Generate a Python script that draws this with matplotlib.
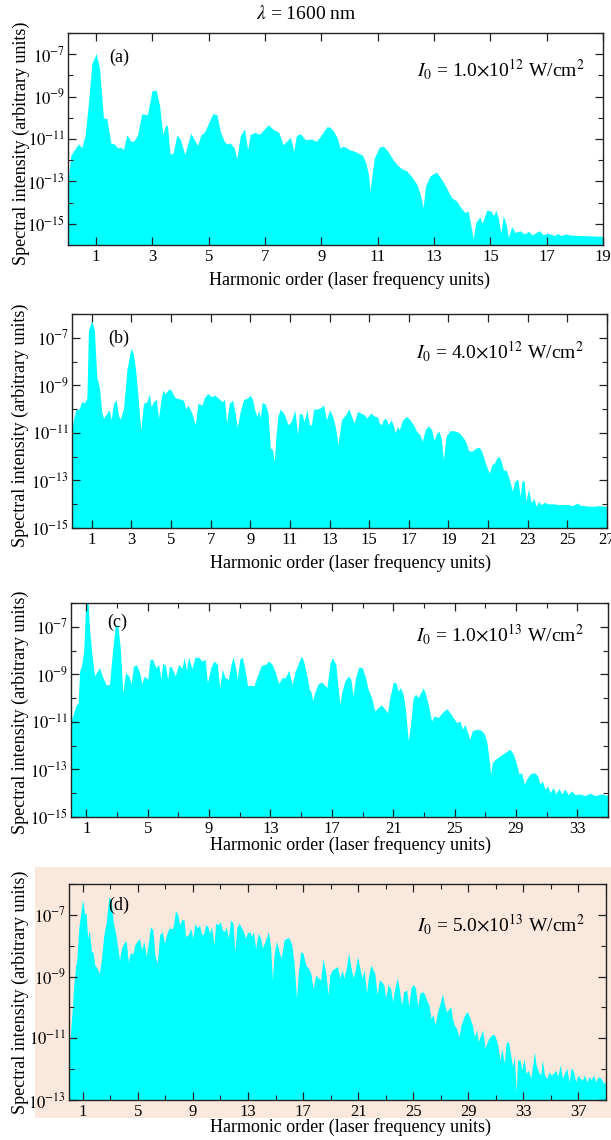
import numpy as np
import matplotlib
matplotlib.use("Agg")
import matplotlib.pyplot as plt
from matplotlib.patches import Rectangle
from matplotlib.ticker import FixedLocator, NullFormatter

plt.rcParams["font.family"] = ["Liberation Serif", "DejaVu Serif"]
plt.rcParams["mathtext.fontset"] = "stix"

# --------------------------------------------------
# Data: harmonic order and log10(intensity)
# --------------------------------------------------

a_x = [0.0, 0.10, 0.37, 0.49, 0.61, 0.73, 0.85, 1.0, 1.12, 1.26,
       1.38, 1.52, 1.64, 1.76, 1.88, 1.97, 2.09, 2.23, 2.35, 2.47,
       2.62, 2.82, 2.98, 3.13, 3.25, 3.37, 3.46, 3.53, 3.63, 3.73,
       3.87, 3.99, 4.15, 4.36, 4.60, 4.72, 4.84, 5.14, 5.29, 5.41,
       5.55, 5.64, 5.76, 5.90, 6.00, 6.12, 6.27, 6.38, 6.47, 6.62,
       6.81, 6.97, 7.11, 7.30, 7.48, 7.64, 7.90, 8.02, 8.11, 8.25,
       8.43, 8.63, 8.82, 8.96, 9.20, 9.29, 9.44, 9.56, 9.67, 9.75,
       9.87, 9.99, 10.17, 10.46, 10.58, 10.67, 10.73, 10.80, 10.88, 11.06,
       11.20, 11.36, 11.54, 11.71, 11.89, 12.01, 12.19, 12.39, 12.51, 12.61,
       12.70, 12.85, 13.08, 13.26, 13.44, 13.62, 13.80, 13.94, 14.10, 14.21,
       14.30, 14.39, 14.48, 14.63, 14.71, 14.87, 15.01, 15.11, 15.20, 15.29,
       15.37, 15.46, 15.56, 15.64, 15.76, 15.88, 16.06, 16.20, 16.36, 16.48,
       16.62, 16.75, 16.87, 17.01, 17.15, 17.27, 17.39, 17.51, 17.67, 17.85,
       18.32, 19.0]
a_logI = [-12.98, -11.77, -11.23, -11.42, -10.80, -9.23, -7.44, -6.97, -7.67, -10.02,
          -10.02, -11.19, -11.23, -11.42, -11.39, -11.5, -10.80, -11.11, -11.08, -10.80,
          -9.81, -9.86, -8.73, -8.69, -9.39, -10.80, -10.36, -10.36, -11.73, -11.66,
          -10.80, -11.03, -11.73, -10.73, -11.31, -10.80, -10.69, -9.81, -9.86, -10.64,
          -11.11, -11.23, -11.19, -11.42, -11.92, -10.84, -10.53, -11.5, -10.8, -10.69,
          -10.77, -10.53, -10.33, -10.56, -10.67, -11.27, -10.92, -11.58, -10.84, -10.75,
          -11.03, -11.0, -11.11, -10.88, -10.42, -10.44, -10.64, -10.95, -11.45, -11.34,
          -11.39, -11.5, -11.58, -11.77, -12.13, -12.67, -13.45, -12.67, -11.89, -11.38,
          -11.34, -11.58, -11.97, -12.25, -12.44, -12.48, -12.75, -13.14, -13.61, -14.23,
          -13.22, -12.75, -12.56, -12.88, -13.30, -13.77, -13.92, -14.23, -14.47, -14.39,
          -15.02, -15.72, -14.94, -14.67, -14.98, -14.36, -14.39, -14.62, -14.36, -14.78,
          -15.45, -14.62, -15.02, -15.64, -15.13, -15.41, -15.33, -15.48, -15.36, -15.53,
          -15.41, -15.33, -15.52, -15.45, -15.48, -15.56, -15.45, -15.56, -15.48, -15.53,
          -15.56, -15.59]

b_x = [0.0, 0.07, 0.19, 0.36, 0.49, 0.63, 0.75, 0.83, 1.0, 1.13,
       1.25, 1.39, 1.51, 1.59, 1.76, 1.88, 1.98, 2.09, 2.23, 2.35,
       2.43, 2.60, 2.77, 2.97, 3.10, 3.22, 3.36, 3.47, 3.61, 3.78,
       3.90, 4.0, 4.11, 4.25, 4.37, 4.50, 4.59, 4.70, 4.84, 4.96,
       5.21, 5.51, 5.63, 5.75, 5.85, 6.05, 6.22, 6.35, 6.56, 6.69,
       6.86, 7.03, 7.20, 7.40, 7.57, 7.70, 7.80, 7.94, 8.10, 8.21,
       8.34, 8.49, 8.66, 8.83, 9.0, 9.11, 9.22, 9.33, 9.42, 9.50,
       9.59, 9.75, 9.89, 10.01, 10.12, 10.21, 10.29, 10.39, 10.51, 10.73,
       10.90, 11.07, 11.24, 11.39, 11.47, 11.61, 11.71, 11.86, 11.98, 12.08,
       12.20, 12.36, 12.58, 12.70, 12.84, 13.0, 13.15, 13.32, 13.42, 13.60,
       13.80, 13.97, 14.11, 14.24, 14.41, 14.58, 14.75, 14.87, 15.08, 15.25,
       15.42, 15.51, 15.62, 15.71, 15.79, 15.88, 15.96, 16.10, 16.21, 16.30,
       16.43, 16.52, 16.69, 16.89, 17.06, 17.23, 17.39, 17.56, 17.68, 17.82,
       17.98, 18.15, 18.27, 18.41, 18.52, 18.63, 18.74, 18.88, 19.08, 19.33,
       19.54, 19.70, 19.87, 20.01, 20.18, 20.38, 20.55, 20.68, 20.85, 21.05,
       21.19, 21.32, 21.44, 21.56, 21.66, 21.78, 21.90, 22.0, 22.12, 22.23,
       22.34, 22.50, 22.62, 22.71, 22.82, 22.91, 23.04, 23.18, 23.30, 23.43,
       23.55, 23.68, 23.85, 24.06, 24.31, 24.56, 24.81, 25.07, 25.27, 25.49,
       25.66, 25.91, 26.25, 26.59, 27.0]
b_logI = [-10.87, -10.45, -10.03, -9.99, -9.69, -9.73, -9.55, -6.68, -6.29, -6.68,
          -8.64, -9.13, -10.17, -10.38, -10.17, -10.03, -10.45, -9.76, -9.62, -10.29,
          -10.43, -9.97, -8.36, -7.45, -7.66, -8.43, -9.76, -10.87, -9.76, -9.69,
          -9.38, -9.90, -9.69, -9.59, -10.38, -9.55, -9.20, -9.36, -9.20, -9.15,
          -9.52, -9.59, -9.64, -10.0, -9.83, -10.17, -10.66, -9.76, -9.83, -9.50,
          -9.34, -9.48, -9.41, -9.55, -9.69, -9.59, -10.57, -9.76, -9.62, -10.03,
          -10.76, -10.10, -9.59, -9.55, -9.42, -9.59, -10.03, -10.31, -10.03, -10.38,
          -9.73, -9.78, -10.17, -11.64, -11.71, -12.20, -11.15, -10.31, -10.0, -10.24,
          -10.66, -10.52, -10.03, -11.08, -10.20, -10.20, -10.52, -10.03, -10.66, -10.66,
          -10.0, -10.0, -9.92, -9.83, -10.45, -10.03, -10.29, -10.87, -11.50, -10.45,
          -10.24, -10.0, -10.31, -10.59, -10.10, -10.17, -10.24, -10.38, -10.17, -10.29,
          -10.34, -10.59, -10.66, -10.45, -10.38, -10.45, -10.66, -10.45, -10.66, -10.99,
          -10.73, -10.87, -10.45, -10.31, -10.45, -10.66, -10.94, -11.08, -11.36, -10.87,
          -10.71, -10.87, -11.32, -11.01, -10.94, -11.22, -12.13, -11.15, -10.90, -10.92,
          -10.99, -11.15, -11.36, -11.74, -11.78, -11.64, -11.60, -11.78, -12.24, -12.69,
          -12.34, -12.27, -12.06, -11.99, -12.20, -12.58, -12.55, -12.76, -13.11, -13.46,
          -13.04, -12.94, -13.67, -13.0, -13.04, -13.88, -13.36, -13.95, -13.74, -14.09,
          -13.88, -14.02, -13.92, -13.99, -13.98, -14.02, -14.01, -14.02, -14.06, -13.95,
          -14.05, -14.06, -14.09, -14.06, -14.09]

c_x = [0.0, 0.18, 0.35, 0.46, 0.57, 0.68, 0.83, 0.96, 1.11, 1.22,
       1.39, 1.54, 1.65, 1.86, 2.08, 2.30, 2.51, 2.69, 2.88, 3.05,
       3.21, 3.38, 3.55, 3.77, 3.92, 4.07, 4.29, 4.50, 4.61, 4.78,
       5.0, 5.15, 5.32, 5.54, 5.71, 5.86, 5.97, 6.15, 6.30, 6.41,
       6.58, 6.79, 7.01, 7.23, 7.38, 7.53, 7.66, 7.88, 8.09, 8.35,
       8.52, 8.74, 8.89, 9.11, 9.32, 9.54, 9.69, 9.86, 10.04, 10.25,
       10.41, 10.56, 10.73, 10.84, 11.0, 11.16, 11.34, 11.51, 11.70, 11.92,
       12.14, 12.42, 12.68, 12.89, 13.11, 13.32, 13.54, 13.76, 13.97, 14.19,
       14.41, 14.62, 14.88, 15.01, 15.16, 15.38, 15.53, 15.66, 15.75, 15.88,
       16.09, 16.31, 16.52, 16.68, 16.89, 17.04, 17.26, 17.52, 17.67, 17.85,
       18.07, 18.24, 18.39, 18.54, 18.76, 18.98, 19.20, 19.37, 19.59, 19.80,
       20.02, 20.24, 20.46, 20.63, 20.78, 21.0, 21.17, 21.33, 21.48, 21.65,
       21.80, 21.98, 22.13, 22.30, 22.46, 22.63, 22.80, 22.96, 23.11, 23.28,
       23.50, 23.67, 23.93, 24.20, 24.48, 24.70, 24.91, 25.13, 25.35, 25.52,
       25.67, 25.85, 26.0, 26.15, 26.43, 26.72, 26.93, 27.09, 27.24, 27.35,
       27.46, 27.67, 27.96, 28.28, 28.61, 28.83, 29.04, 29.20, 29.37, 29.54,
       29.70, 29.91, 30.20, 30.41, 30.57, 30.72, 30.89, 31.07, 31.22, 31.43,
       31.59, 31.80, 31.98, 32.20, 32.41, 32.63, 32.85, 33.17, 33.50, 33.83,
       34.15, 34.59, 35.0]
c_logI = [-10.96, -10.61, -10.26, -10.23, -8.83, -8.65, -8.02, -5.9, -5.9, -7.18,
          -8.30, -9.07, -8.93, -8.72, -9.14, -9.45, -9.42, -8.13, -6.97, -6.90,
          -7.88, -9.77, -8.93, -9.07, -9.39, -8.65, -8.61, -9.0, -9.39, -9.07,
          -9.21, -8.37, -8.37, -8.72, -8.58, -9.21, -8.55, -8.61, -9.21, -8.65,
          -8.72, -9.07, -8.58, -8.75, -8.30, -8.83, -8.27, -8.75, -8.27, -8.30,
          -8.44, -8.37, -9.35, -8.72, -8.44, -8.58, -9.56, -8.79, -9.14, -9.21,
          -8.65, -8.27, -8.72, -9.21, -8.37, -8.27, -8.79, -9.49, -9.45, -9.49,
          -9.07, -8.62, -8.58, -8.44, -8.58, -8.93, -9.39, -9.14, -9.14, -8.83,
          -9.42, -8.86, -8.44, -8.23, -8.44, -9.07, -9.63, -9.77, -10.12, -9.77,
          -9.42, -9.32, -9.45, -9.56, -8.51, -8.30, -8.58, -10.26, -9.70, -9.28,
          -9.07, -9.21, -9.91, -9.14, -8.69, -8.72, -9.14, -9.63, -9.98, -10.54,
          -10.40, -10.29, -10.47, -10.61, -9.98, -9.35, -9.35, -9.70, -9.56, -9.84,
          -10.47, -11.80, -11.10, -9.98, -9.84, -9.98, -9.77, -9.56, -9.84, -10.26,
          -10.96, -10.75, -10.82, -10.61, -10.44, -10.61, -10.82, -11.03, -10.96, -11.31,
          -11.10, -11.45, -11.73, -11.38, -11.31, -11.35, -11.49, -11.80, -12.50, -13.20,
          -12.71, -12.57, -12.43, -12.29, -12.15, -12.36, -12.78, -13.20, -13.13, -13.62,
          -13.41, -13.20, -13.13, -13.27, -13.62, -13.48, -13.83, -13.69, -13.97, -13.76,
          -14.03, -13.80, -14.03, -13.83, -14.06, -13.90, -14.06, -14.03, -14.10, -14.0,
          -14.10, -14.03, -14.10]

d_x = [0.0, 0.10, 0.22, 0.35, 0.47, 0.59, 0.71, 0.88, 1.0, 1.12,
       1.24, 1.36, 1.48, 1.63, 1.75, 1.87, 2.04, 2.21, 2.36, 2.53,
       2.70, 2.89, 3.06, 3.21, 3.38, 3.50, 3.67, 3.81, 3.98, 4.15,
       4.30, 4.47, 4.64, 4.78, 4.95, 5.12, 5.27, 5.44, 5.61, 5.75,
       5.92, 6.09, 6.24, 6.41, 6.58, 6.77, 6.94, 7.08, 7.25, 7.45,
       7.57, 7.74, 7.91, 8.03, 8.18, 8.35, 8.47, 8.66, 8.83, 9.0,
       9.15, 9.32, 9.48, 9.63, 9.80, 9.92, 10.09, 10.21, 10.36, 10.53,
       10.65, 10.84, 10.99, 11.13, 11.28, 11.42, 11.57, 11.74, 11.91, 12.05,
       12.18, 12.35, 12.54, 12.71, 12.83, 12.95, 13.12, 13.27, 13.39, 13.56,
       13.73, 13.92, 14.04, 14.19, 14.33, 14.48, 14.65, 14.77, 14.89, 15.06,
       15.21, 15.38, 15.50, 15.62, 15.79, 15.98, 16.18, 16.35, 16.52, 16.66,
       16.83, 17.0, 17.19, 17.39, 17.56, 17.73, 17.92, 18.12, 18.28, 18.45,
       18.65, 18.82, 18.94, 19.13, 19.30, 19.50, 19.67, 19.84, 19.98, 20.15,
       20.32, 20.47, 20.64, 20.81, 20.95, 21.12, 21.29, 21.44, 21.61, 21.73,
       21.92, 22.09, 22.21, 22.38, 22.53, 22.70, 22.87, 22.99, 23.18, 23.35,
       23.50, 23.67, 23.84, 23.98, 24.15, 24.32, 24.52, 24.68, 24.83, 25.0,
       25.17, 25.32, 25.48, 25.65, 25.80, 25.97, 26.14, 26.28, 26.45, 26.58,
       26.77, 26.92, 27.11, 27.25, 27.42, 27.55, 27.72, 27.84, 27.98, 28.15,
       28.32, 28.47, 28.64, 28.81, 28.95, 29.12, 29.29, 29.44, 29.61, 29.73,
       29.90, 30.04, 30.21, 30.38, 30.50, 30.70, 30.87, 30.99, 31.14, 31.30,
       31.43, 31.62, 31.74, 31.91, 32.08, 32.21, 32.35, 32.47, 32.59, 32.76,
       32.88, 33.05, 33.19, 33.36, 33.53, 33.68, 33.80, 33.92, 34.09, 34.26,
       34.38, 34.53, 34.70, 34.87, 35.01, 35.18, 35.35, 35.50, 35.67, 35.84,
       35.98, 36.15, 36.32, 36.47, 36.64, 36.81, 36.95, 37.12, 37.29, 37.44,
       37.61, 37.78, 37.92, 38.09, 38.26, 38.45, 38.65, 38.82, 39.0]
d_logI = [-11.22, -10.89, -10.14, -9.27, -8.73, -8.35, -7.43, -6.84, -6.51, -6.95,
          -6.95, -7.76, -7.49, -8.19, -8.21, -8.62, -8.73, -8.89, -8.41, -7.65,
          -7.27, -6.41, -6.51, -7.22, -7.59, -7.92, -8.46, -8.08, -7.92, -7.84,
          -8.51, -8.21, -8.28, -7.97, -7.86, -7.76, -8.14, -7.86, -8.35, -7.92,
          -7.38, -7.49, -8.30, -8.57, -7.65, -7.54, -7.92, -7.65, -7.43, -7.45,
          -7.38, -6.86, -7.0, -7.32, -7.16, -7.16, -7.70, -7.65, -7.43, -7.76,
          -7.27, -7.43, -7.32, -7.65, -7.59, -7.32, -7.38, -7.59, -7.38, -7.97,
          -7.27, -7.32, -7.22, -7.49, -7.54, -7.38, -7.76, -7.16, -7.27, -8.19,
          -7.43, -7.27, -7.43, -7.59, -7.76, -7.59, -7.54, -7.70, -7.54, -8.08,
          -7.59, -7.76, -8.08, -7.92, -7.76, -7.54, -8.08, -9.11, -8.30, -7.86,
          -8.08, -8.41, -8.19, -7.81, -7.76, -7.74, -7.97, -8.57, -9.70, -8.84,
          -8.19, -8.24, -8.62, -8.73, -8.89, -9.38, -8.95, -9.05, -9.11, -8.41,
          -8.89, -9.59, -8.95, -8.78, -8.73, -8.68, -9.05, -8.78, -9.05, -8.68,
          -8.24, -8.68, -9.05, -8.73, -8.35, -8.73, -9.05, -8.78, -9.54, -9.05,
          -8.62, -8.78, -8.89, -9.59, -9.11, -9.16, -9.27, -9.70, -9.27, -9.38,
          -9.81, -9.38, -9.05, -9.38, -9.92, -9.49, -9.43, -9.97, -9.38, -9.25,
          -9.38, -9.97, -9.54, -9.49, -9.54, -9.76, -9.92, -10.35, -10.24, -10.57,
          -10.14, -9.92, -9.57, -9.86, -10.14, -10.08, -9.97, -10.35, -10.57, -10.68,
          -10.95, -10.57, -10.35, -10.19, -10.14, -10.35, -10.57, -10.95, -10.73, -11.11,
          -10.89, -10.73, -11.32, -11.11, -11.0, -10.89, -10.87, -11.0, -11.22, -11.70,
          -11.32, -11.81, -11.16, -11.11, -11.54, -11.92, -11.59, -12.73, -11.70, -11.70,
          -12.03, -11.65, -12.14, -12.03, -12.30, -11.86, -11.43, -11.86, -12.08, -12.19,
          -11.70, -12.19, -12.30, -12.08, -12.19, -12.14, -12.03, -12.24, -11.86, -12.30,
          -12.14, -11.97, -12.41, -11.95, -12.08, -12.41, -12.19, -12.30, -12.35, -12.19,
          -12.41, -12.24, -12.35, -12.19, -12.41, -12.24, -12.30, -12.46, -12.41]

panel_tags = ["(a)", "(b)", "(c)", "(d)"]
intensities = ["1.0", "4.0", "1.0", "5.0"]
intensity_exps = ["12", "12", "13", "13"]
y_bottoms = [-16, -15, -15, -13]
x_maxes = [19, 27, 35, 39]
x_steps = [2, 2, 4, 4]

# --------------------------------------------------
# Figure layout (pixel boxes of the four axes)
# --------------------------------------------------

W, H = 611, 1140
fig = plt.figure(figsize=(W / 100, H / 100), dpi=100)

# peach backdrop behind panel (d)
backdrop = Rectangle((35 / W, 1 - 1118 / H), (W - 35) / W, (1118 - 867) / H,
                     transform=fig.transFigure, facecolor="#FBE8DD",
                     edgecolor="none", zorder=-10)
fig.patches.append(backdrop)

boxes = [(68, 603, 33, 245), (72, 607, 314, 528), (71, 608, 603, 817), (69, 606, 884, 1100)]
ylabel_xy = [(-0.071, 0.48), (-0.080, 0.48), (-0.078, 0.49), (-0.074, 0.50)]
xlabel_y = [-0.165, -0.165, -0.131, -0.125]
xlabel_x = [0.527, 0.52, 0.52, 0.525]
tag_xy = [(0.095, 0.887), (0.088, 0.888), (0.086, 0.908), (0.093, 0.903)]
note_xy = [(0.965, 0.825), (0.957, 0.824), (0.955, 0.85), (0.96, 0.81)]

data = [(a_x, a_logI), (b_x, b_logI), (c_x, c_logI), (d_x, d_logI)]

for i, (xs, ls) in enumerate(data):
    l, r, t, b = boxes[i]
    ax = fig.add_axes([l / W, 1 - b / H, (r - l) / W, (b - t) / H])
    ax.set_facecolor("none")

    xs = np.array(xs)
    ys = 10.0 ** np.array(ls)
    ax.fill_between(xs, ys, 1e-20, color="#00FFFF", linewidth=0)

    ax.set_yscale("log")
    ax.set_ylim(10.0 ** y_bottoms[i], 1e-6)
    ax.set_xlim(0, x_maxes[i])

    # ticks
    major_y = [10.0 ** e for e in range(-7, y_bottoms[i] - 1, -2)]
    minor_y = [10.0 ** e for e in range(-6, y_bottoms[i] - 1, -2)]
    ax.yaxis.set_major_locator(FixedLocator(major_y))
    ax.yaxis.set_minor_locator(FixedLocator(minor_y))
    ax.yaxis.set_minor_formatter(NullFormatter())
    ax.set_yticklabels([r"$10^{%d}$" % e for e in range(-7, y_bottoms[i] - 1, -2)])

    step = x_steps[i]
    ax.set_xticks(np.arange(1, x_maxes[i] + 1, step))
    if step == 4:
        ax.set_xticks(np.arange(3, x_maxes[i] + 1, step), minor=True)

    ax.tick_params(which="both", direction="in", top=True, right=True,
                   labelsize=12, color="#222222")
    ax.tick_params(which="major", length=6, width=0.9, pad=3)
    ax.tick_params(which="minor", length=3.5, width=0.8)
    ax.tick_params(axis="y", which="major", pad=2)
    for s in ax.spines.values():
        s.set_color("#222222")
        s.set_linewidth(1.0)

    ax.set_xlabel("Harmonic order (laser frequency units)", fontsize=13)
    ax.xaxis.label.set_verticalalignment("center")
    ax.xaxis.set_label_coords(xlabel_x[i], xlabel_y[i])
    ax.set_ylabel("Spectral intensity (arbitrary units)", fontsize=13)
    ax.yaxis.set_label_coords(*ylabel_xy[i])

    ax.text(tag_xy[i][0], tag_xy[i][1], panel_tags[i], transform=ax.transAxes,
            fontsize=13, ha="center", va="center")
    ax.text(note_xy[i][0], note_xy[i][1],
            r"$I_{\mathit{0}}$ = %s$\times$10$^{%s}$ W/cm$^{2}$" % (intensities[i], intensity_exps[i]),
            transform=ax.transAxes, fontsize=14, ha="right", va="center")

fig.text(306 / W, 1 - 14 / H, r"$\lambda$ = 1600 nm", fontsize=14, ha="center", va="center")

fig.savefig("out.png", dpi=100)
plt.close(fig)
